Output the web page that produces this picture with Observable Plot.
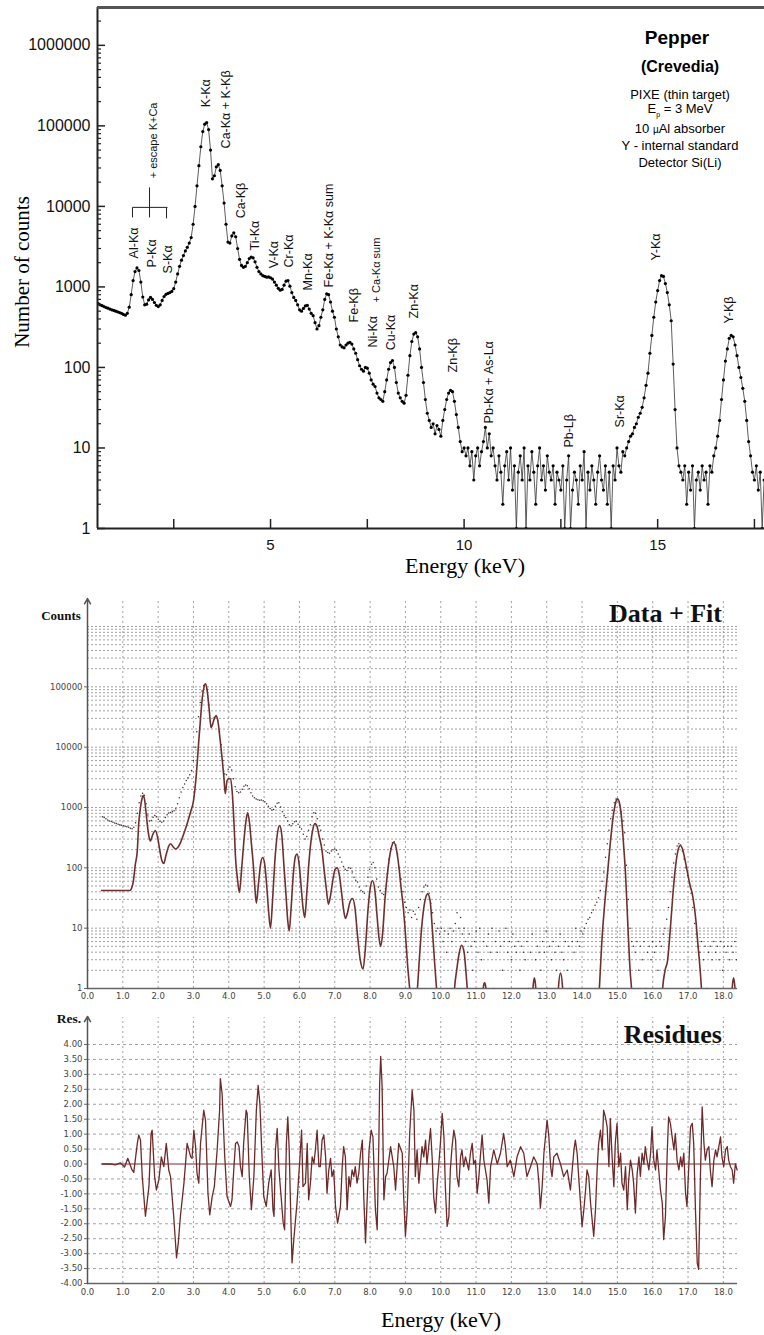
<!DOCTYPE html>
<html><head><meta charset="utf-8">
<script src="https://cdn.jsdelivr.net/npm/d3@7"></script>
<script src="https://cdn.jsdelivr.net/npm/@observablehq/plot@0.6"></script>
<style>
body{margin:0;background:#fff;}
#wrap{position:relative;width:764px;height:1335px;overflow:hidden;background:#fff;}
.abs{position:absolute;white-space:nowrap;line-height:1;}
.c{transform:translate(-50%,-50%);}
.serif{font-family:"Liberation Serif","Times New Roman",serif;}
.sans{font-family:"Liberation Sans",Arial,sans-serif;}
.r{transform:translate(-100%,-50%);}
</style></head><body>
<div id="wrap">
 <div id="topChart" class="abs" style="left:0;top:0"></div>
 <div id="midChart" class="abs" style="left:0;top:590px"></div>
 <div id="botChart" class="abs" style="left:0;top:1010px"></div>

 <div class="abs serif c" style="left:22px;top:272px;font-size:21px;transform:translate(-50%,-50%) rotate(-90deg)">Number of counts</div>
 <div class="abs serif c" style="left:465px;top:566px;font-size:22px">Energy (keV)</div>

 <div class="abs sans c" style="left:677px;top:37px;font-size:19px;font-weight:bold">Pepper</div>
 <div class="abs sans c" style="left:680px;top:67px;font-size:16px;font-weight:bold">(Crevedia)</div>
 <div class="abs sans c" style="left:680px;top:94px;font-size:13px">PIXE (thin target)</div>
 <div class="abs sans c" style="left:680px;top:110px;font-size:13px">E<sub style="font-size:7px">p</sub> = 3 MeV</div>
 <div class="abs sans c" style="left:680px;top:128px;font-size:13px">10 <span style="font-size:10px">µ</span>Al absorber</div>
 <div class="abs sans c" style="left:680px;top:145px;font-size:13px">Y - internal standard</div>
 <div class="abs sans c" style="left:680px;top:162px;font-size:13px">Detector Si(Li)</div>

 <div class="abs serif c" style="left:61px;top:615px;font-size:13px;font-weight:bold;color:#111">Counts</div>
 <div class="abs serif r" style="left:722px;top:614px;font-size:26px;font-weight:bold;color:#111">Data + Fit</div>
 <div class="abs serif c" style="left:69px;top:1019px;font-size:13.5px;font-weight:bold;color:#111">Res.</div>
 <div class="abs serif r" style="left:722px;top:1035px;font-size:26px;font-weight:bold;color:#111">Residues</div>
 <div class="abs serif c" style="left:441px;top:1320px;font-size:22px">Energy (keV)</div>
</div>
<script>
// ---------------- DATA ----------------
// Measured spectrum (counts per 0.05 keV bin, top-panel calibration)
const topStart = 0.40, topStep = 0.05;
const topCounts = [
700,680,650,620,600,585,570,555,545,530,520,510,500,490,480,470,455,445,
470,560,800,1200,1550,1720,1600,1150,750,600,
610,690,740,700,640,590,570,600,680,760,810,830,850,880,950,
1150,1450,1800,2150,2450,2800,3100,3500,4100,6000,10000,18000,32000,55000,85000,105000,110000,90000,50000,22000,
24000,31000,33000,28000,18000,11000,6000,3600,3500,4300,4700,4200,3000,2200,1850,1750,1800,2000,2250,2350,2300,2050,
1750,1550,1450,1380,1350,1320,1330,1300,1250,1150,1050,960,910,930,1050,1180,1200,1020,850,740,680,600,520,500,540,
580,590,530,470,440,360,300,330,420,520,700,820,800,650,500,420,300,240,190,180,175,190,200,205,195,170,150,125,105,
95,90,100,98,85,70,62,58,48,42,40,38,50,70,95,115,122,100,65,48,42,38,36,45,80,140,210,260,270,240,170,100,65,40,27,
22,18,20,15,19,17,14,22,30,40,48,52,50,38,26,18,12,9,10,
8,10,6,9,4,8,10,6,9,12,18,10,15,8,10,6,4,8,5,2,6,9,4,10,3,6,1,5,8,4,10,1,6,4,9,5,2,6,10,4,
6,3,8,5,4,6,2,5,4,3,6,1,4,8,1,3,5,4,2,6,4,9,1,5,3,6,4,2,5,8,4,3,6,2,5,1,6,4,10,
6,5,9,8,10,12,14,15,18,20,24,27,32,42,60,85,150,250,420,650,900,1200,1380,1350,1100,850,600,380,110,30,10,6,
5,4,6,2,5,3,6,1,4,5,3,6,4,5,2,6,5,8,10,14,22,40,70,120,170,230,250,240,190,140,100,75,55,38,22,12,8,5,4,6,3,5,1,4,
5,3,6,4,5,3,6,2,5,4,5,3,5,4,6,3,5
];
// Recalibration of the same channels for the fit program (middle panel)
const midOffset = 0.027, midGain = 0.989;

// Fit curve (middle panel), energy keV / counts
const fitE = [0.40,0.80,1.20,1.26,1.30,1.35,1.41,1.45,1.50,1.55,1.58,1.62,1.66,1.69,1.74,1.78,1.85,1.92,1.98,2.05,2.10,2.16,2.22,2.30,2.35,2.42,2.49,2.56,2.63,2.72,2.82,2.92,3.00,3.08,3.15,3.20,3.25,3.30,3.34,3.39,3.44,3.50,3.55,3.60,3.65,3.70,3.75,3.81,3.86,3.90,3.95,4.00,4.05,4.10,4.15,4.19,4.24,4.30,4.36,4.42,4.48,4.53,4.58,4.64,4.70,4.74,4.78,4.84,4.90,4.96,5.02,5.08,5.13,5.18,5.24,5.30,5.37,5.44,5.50,5.56,5.62,5.67,5.71,5.76,5.82,5.88,5.93,5.98,6.04,6.10,6.15,6.21,6.28,6.36,6.44,6.50,6.56,6.64,6.70,6.76,6.82,6.88,6.95,7.01,7.07,7.13,7.19,7.25,7.30,7.36,7.42,7.50,7.57,7.64,7.72,7.80,7.87,7.94,8.00,8.07,8.14,8.20,8.25,8.30,8.36,8.42,8.50,8.58,8.67,8.74,8.81,8.88,8.94,9.00,9.06,9.12,9.18,9.28,9.34,9.40,9.47,9.55,9.63,9.70,9.76,9.82,9.88,9.94,10.35,10.39,10.45,10.52,10.59,10.66,10.71,10.75,10.80,11.16,11.20,11.24,11.28,11.32,12.58,12.61,12.65,12.69,12.72,13.30,13.33,13.39,13.45,13.48,14.45,14.49,14.56,14.64,14.72,14.80,14.88,14.95,15.00,15.05,15.12,15.18,15.23,15.30,15.36,15.40,15.44,16.24,16.28,16.35,16.42,16.50,16.58,16.65,16.72,16.78,16.85,16.92,17.00,17.06,17.12,17.18,17.23,17.27,17.33,17.38,17.42,18.22,18.25,18.29,18.33,18.37,18.45];
const fitV = [42,42,42,48,61,110,193,540,1000,1450,1600,1300,800,540,330,280,360,415,330,190,135,118,160,230,250,225,205,220,260,360,540,850,1290,3500,12700,30000,66000,100000,112000,85000,45000,21000,25000,31000,33000,25000,14000,6600,3200,1700,2770,3000,3000,1700,500,148,70,39,90,250,560,820,600,250,100,45,26,55,115,148,110,45,18,10,30,120,350,500,350,110,35,13,9,20,70,150,170,130,55,22,15,40,150,380,540,480,330,193,90,45,25,35,65,95,100,75,40,20,14.5,18,26,31,22,8,3,2.1,5,20,45,61,40,15,7,5,9,30,90,190,263,210,110,45,22,8,2.5,1,0.4,0.4,1,3.5,12,28,37,28,10,3,1,0.4,0.4,1,2,3.8,5.2,4,2,1,0.4,0.4,1,1.26,1,0.4,0.4,1,1.5,1,0.4,0.4,1,1.8,1,0.4,0.4,1,6,25,80,260,700,1200,1400,1250,650,220,80,10,2,1,0.4,0.4,1,2,2.9,10,42,110,200,235,200,130,75,50,37,22,12,6.2,2.5,1,0.4,0.4,1,1.5,1,0.4,0.4];

// Residues (bottom panel)
const resE = [0.42,0.65,0.79,0.93,1.05,1.14,1.26,1.31,1.41,1.45,1.50,1.55,1.64,1.74,1.80,1.83,1.90,1.95,2.02,2.09,2.16,2.23,2.30,2.35,2.44,2.52,2.57,2.63,2.73,2.82,2.92,2.96,3.01,3.06,3.10,3.15,3.20,3.29,3.34,3.41,3.46,3.53,3.59,3.67,3.74,3.76,3.81,3.88,3.95,4.05,4.09,4.14,4.19,4.24,4.29,4.33,4.38,4.42,4.49,4.52,4.58,4.64,4.71,4.78,4.83,4.88,4.94,4.99,5.06,5.13,5.20,5.25,5.28,5.32,5.37,5.42,5.48,5.54,5.58,5.63,5.67,5.71,5.75,5.79,5.84,5.93,6.01,6.06,6.10,6.17,6.22,6.26,6.31,6.36,6.41,6.45,6.50,6.55,6.59,6.64,6.69,6.74,6.78,6.83,6.88,6.92,6.97,7.02,7.08,7.16,7.21,7.25,7.30,7.35,7.40,7.44,7.49,7.54,7.58,7.63,7.68,7.73,7.78,7.82,7.87,7.92,7.97,8.03,8.08,8.15,8.20,8.25,8.27,8.30,8.34,8.39,8.44,8.48,8.58,8.67,8.72,8.81,8.91,8.95,9.00,9.05,9.12,9.19,9.24,9.28,9.33,9.38,9.47,9.52,9.57,9.61,9.71,9.76,9.80,9.85,9.90,9.94,9.99,10.04,10.09,10.13,10.18,10.23,10.27,10.32,10.37,10.42,10.46,10.51,10.56,10.60,10.65,10.70,10.75,10.79,10.84,10.89,10.93,10.98,11.03,11.08,11.12,11.17,11.22,11.31,11.36,11.41,11.50,11.60,11.69,11.78,11.83,11.88,11.97,12.07,12.16,12.26,12.35,12.44,12.54,12.63,12.73,12.78,12.82,12.87,12.92,13.01,13.06,13.11,13.15,13.20,13.29,13.39,13.48,13.58,13.67,13.77,13.81,13.86,13.91,13.95,14.00,14.05,14.10,14.14,14.19,14.24,14.33,14.38,14.43,14.47,14.52,14.57,14.61,14.66,14.71,14.76,14.80,14.85,14.90,14.94,14.99,15.04,15.09,15.13,15.18,15.23,15.28,15.32,15.37,15.42,15.46,15.51,15.56,15.61,15.65,15.70,15.75,15.79,15.84,15.89,15.94,15.98,16.03,16.08,16.12,16.22,16.27,16.31,16.36,16.41,16.45,16.50,16.55,16.60,16.64,16.69,16.74,16.79,16.83,16.88,16.93,16.97,17.02,17.07,17.12,17.16,17.21,17.26,17.30,17.35,17.40,17.45,17.49,17.54,17.59,17.63,17.68,17.73,17.78,17.82,17.92,17.96,18.01,18.06,18.11,18.15,18.20,18.25,18.29,18.34,18.39];
const resV = [0,0,-0.03,0.04,-0.10,0.19,-0.20,-0.28,0.69,0.97,0.80,-0.42,-1.75,-0.75,1.02,1.13,-0.42,-0.87,-0.53,0.24,-0.09,0.69,-0.20,-0.42,-1.75,-3.14,-2.64,-1.75,-0.64,0.69,0.24,0.19,1.13,0.58,-0.31,-0.64,0.69,1.80,1.47,-0.98,-1.70,-1.09,-0.76,0.47,1.80,2.86,2.36,0.36,-1.09,-1.42,-1.20,-0.20,0.69,0.74,0.58,-0.09,-0.42,0.69,1.80,1.69,-0.42,-1.53,-0.42,1.80,2.63,2.02,0.24,-1.09,-1.42,-0.64,-0.20,-1.53,-1.75,0.47,1.19,-0.20,-1.09,-1.98,-2.20,0.69,1.58,0.47,-1.53,-3.31,-2.53,-1.31,0.13,1.13,-0.76,-0.64,0.69,-1.20,-0.64,0.24,0.02,0.47,1.13,-0.09,-0.09,0.80,0.97,0.24,-0.98,-0.20,0.19,-0.42,-0.20,-1.42,-1.98,-1.42,-0.09,0.58,0.24,-1.53,-0.42,-0.76,-0.20,-0.42,-0.09,-0.64,-0.31,0.36,0.80,-1.09,-2.64,-1.09,0.47,1.13,0.91,-1.53,-2.20,0.91,2.69,3.60,2.58,-1.20,-0.42,-0.31,0.58,-0.09,-0.87,0.69,0.36,-1.09,-2.42,-1.53,1.02,2.47,1.80,-0.42,0.47,-0.64,0.58,0.24,0.80,0.00,1.19,0.13,-1.09,-1.64,-0.64,-0.09,0.69,1.69,0.91,-0.76,-2.09,-1.75,-0.20,0.58,1.13,0.80,-0.42,-0.76,0.24,0.47,-0.09,0.24,0.00,-0.20,0.36,0.69,0.00,0.13,-0.98,-0.42,0.24,0.97,0.13,-0.53,-1.31,-0.09,0.47,0.00,0.36,1.02,0.58,-0.09,0.13,-0.42,0.24,0.58,0.36,-0.42,-0.09,0.24,0.00,-0.64,-1.48,-0.76,0.36,1.47,0.91,-0.09,-0.42,0.24,0.36,0.00,-0.42,-0.20,-0.87,0.47,0.80,0.36,-0.53,-1.20,-2.09,-1.53,-0.87,-0.20,-0.42,-1.31,-2.42,-1.53,-0.09,0.69,1.13,0.47,1.80,1.58,1.24,-0.09,1.52,0.24,-0.76,0.69,1.36,-0.09,0.36,-0.64,-0.87,-0.09,-1.53,-0.53,0.13,-0.20,-0.64,-1.64,-0.31,0.24,-0.42,0.36,0.00,0.58,0.13,-0.20,0.36,1.24,0.13,-0.20,0.47,-0.87,-1.31,-2.53,-1.75,0.36,1.58,1.36,0.91,0.47,1.02,0.13,-0.20,0.24,-0.09,0.36,-0.98,-1.42,-0.09,1.24,1.36,0.69,-1.53,-3.31,-3.53,-0.42,1.91,0.69,0.13,0.47,0.58,-0.20,-0.76,0.13,0.47,0.24,0.91,0.24,-0.09,0.47,0.58,0.13,-0.09,-0.20,-0.64,0.00,-0.20];

// Peak labels (top panel): label, energy, count at label start, font size
const peakLabels = ["Al-Kα","P-Kα","S-Kα","K-Kα","Ca-Kα + K-Kβ","Ca-Kβ","Ti-Kα","V-Kα","Cr-Kα","Mn-Kα","Fe-Kα + K-Kα sum","Fe-Kβ","Ni-Kα","+ Ca-Kα sum","Cu-Kα","Zn-Kα","Zn-Kβ","Pb-Kα + As-Lα","Pb-Lβ","Sr-Kα","Y-Kα","Y-Kβ","+ escape K+Ca"];
const peakE = [1.46,1.93,2.36,3.32,3.86,4.225,4.587,5.078,5.465,5.97,6.50,7.145,7.636,7.74,8.10,8.695,9.703,10.633,12.70,14.04,14.97,16.85,1.98];
const peakC = [2260,1746,1472,170000,52500,7100,2840,1700,1746,905,986,362,177,642,163,406,86.7,20.2,10.1,18.0,2135,352,22300];
const peakSize = [12.5,12.5,12.5,12.5,12.5,12.5,12.5,12.5,12.5,12.5,12.5,12.5,12.5,11,12.5,12.5,12.5,12.5,12.5,12.5,12.5,12.5,11];
// bracket grouping Al/P/S lines
const bracketE1 = [1.434,1.434,1.874,2.313];
const bracketE2 = [2.339,1.434,1.874,2.313];
const bracketC1 = [9720,9720,17200,9720];
const bracketC2 = [9720,7300,7300,7100];

// Axis ticks
const topDecades = [1,10,100,1000,10000,100000,1000000];
const minorMult = [2,3,4,5,6,7,8,9];
const topXTicks = [2.5,5,7.5,10,12.5,15,17.5];
const topXLabels = [5,10,15];
const midXTicks = [0,1,2,3,4,5,6,7,8,9,10,11,12,13,14,15,16,17,18];
const midYLabels = [1,10,100,1000,10000,100000];
const midDecades = [1,10,100,1000,10000,100000,1000000];
const resTicks = [-4,-3.5,-3,-2.5,-2,-1.5,-1,-0.5,0,0.5,1,1.5,2,2.5,3,3.5,4];

// ---------------- BUILD ----------------
const topData = topCounts.map((c, i) => ({e: topStart + i * topStep, c}));
const midData = topData.map(d => ({e: midOffset + midGain * d.e, c: d.c}));
const fitData = fitE.map((e, i) => ({e, v: fitV[i]}));
const resData = resE.map((e, i) => ({e, v: resV[i]}));
const labels = peakLabels.map((t, i) => ({t, e: peakE[i], c: peakC[i], s: peakSize[i]}));
const bracket = bracketE1.map((e, i) => ({x1: e, x2: bracketE2[i], y1: bracketC1[i], y2: bracketC2[i]}));
const topMax = 2.95e6;
const topMinor = topDecades.flatMap(d => minorMult.map(m => m * d)).filter(v => v < topMax);
const midGrid = midDecades.flatMap(d => d === 1e6 ? [d] : [d, ...minorMult.map(m => m * d)]);
const sansF = "Liberation Sans, Arial, sans-serif";

const topPlot = Plot.plot({
  width: 764, height: 590,
  marginLeft: 97, marginRight: 0, marginTop: 7, marginBottom: 62,
  x: {domain: [0.53, 17.76]},
  y: {type: "log", domain: [1, topMax]},
  style: {fontFamily: sansF, background: "transparent", overflow: "visible"},
  marks: [
    Plot.line(topData, {x: "e", y: "c", stroke: "#333", strokeWidth: 0.8, clip: true}),
    Plot.dot(topData, {x: "e", y: "c", r: 1.6, fill: "#000", stroke: "none", clip: true}),
    Plot.axisY({ticks: topDecades, tickSize: -8, tickFormat: () => "", stroke: "#222", strokeWidth: 1.5, label: null}),
    Plot.axisY({ticks: topMinor, tickSize: -4, tickFormat: () => "", stroke: "#222", strokeWidth: 1.2, label: null}),
    Plot.axisY({ticks: topDecades, tickSize: 0, tickPadding: 7, fontSize: 16, fill: "#111", tickFormat: d => String(d), label: null}),
    Plot.axisX({ticks: topXTicks, tickSize: -9, tickFormat: () => "", stroke: "#222", strokeWidth: 1.5, label: null}),
    Plot.axisX({ticks: topXLabels, tickSize: 0, tickPadding: 11, fontSize: 15, fill: "#111", label: null}),
    Plot.ruleX([0.53], {stroke: "#222", strokeWidth: 2}),
    Plot.ruleY([1], {stroke: "#222", strokeWidth: 2}),
    Plot.ruleY([topMax], {stroke: "#555", strokeWidth: 3}),
    Plot.link(bracket, {x1: "x1", x2: "x2", y1: "y1", y2: "y2", stroke: "#222", strokeWidth: 1}),
    Plot.text(labels, {x: "e", y: "c", text: "t", rotate: -90, textAnchor: "start", lineAnchor: "middle", fontSize: "s", fill: "#111", fontFamily: sansF})
  ]
});
document.getElementById("topChart").appendChild(topPlot);

const gridStroke = "#8a8a8a";
const midPlot = Plot.plot({
  width: 764, height: 420,
  marginLeft: 87, marginRight: 27, marginTop: 36, marginBottom: 22,
  x: {domain: [0, 18.4]},
  y: {type: "log", domain: [1, 1e6]},
  style: {fontFamily: "DejaVu Sans, sans-serif", background: "transparent", overflow: "visible"},
  marks: [
    Plot.ruleY(midGrid, {stroke: gridStroke, strokeWidth: 0.8, strokeDasharray: "2,2"}),
    Plot.ruleX(midXTicks.filter(d => d > 0), {y1: 1, y2: 2.9e6, stroke: gridStroke, strokeWidth: 0.8, strokeDasharray: "2,3"}),
    Plot.dot(midData, {x: "e", y: "c", r: 0.75, fill: "#3a2a2a", stroke: "none", clip: true}),
    Plot.line(fitData, {x: "e", y: "v", stroke: "#6e2f2f", strokeWidth: 1.6, curve: "monotone-x", clip: true}),
    Plot.ruleY([1], {stroke: "#666", strokeWidth: 1.5}),
    Plot.arrow([0], {x1: 0, x2: 0, y1: 1, y2: 2.9e6, stroke: "#555", strokeWidth: 1.5, headLength: 6}),
    Plot.axisX({ticks: midXTicks, tickSize: 0, tickPadding: 4, fontSize: 8.5, fill: "#444", tickFormat: d => d.toFixed(1), label: null}),
    Plot.axisY({ticks: midYLabels, tickSize: 3, tickPadding: 2, fontSize: 8.5, fill: "#444", stroke: "#666", tickFormat: d => String(d), label: null})
  ]
});
document.getElementById("midChart").appendChild(midPlot);

const botPlot = Plot.plot({
  width: 764, height: 325,
  marginLeft: 87, marginRight: 27, marginTop: 34, marginBottom: 52,
  x: {domain: [0, 18.4]},
  y: {domain: [-4, 4]},
  style: {fontFamily: "DejaVu Sans, sans-serif", background: "transparent", overflow: "visible"},
  marks: [
    Plot.ruleY(resTicks.filter(d => d !== 0 && d !== -4), {stroke: gridStroke, strokeWidth: 0.8, strokeDasharray: "3,3"}),
    Plot.ruleX(midXTicks.filter(d => d > 0), {y1: -4, y2: 4.9, stroke: gridStroke, strokeWidth: 0.8, strokeDasharray: "2,3"}),
    Plot.ruleY([0], {x1: 0.4, x2: 18.4, stroke: "#7a2a2a", strokeWidth: 1.2}),
    Plot.line(resData, {x: "e", y: "v", stroke: "#6e2a2a", strokeWidth: 1.3}),
    Plot.ruleY([-4], {stroke: "#666", strokeWidth: 1.5}),
    Plot.arrow([0], {x1: 0, x2: 0, y1: -4, y2: 4.94, stroke: "#555", strokeWidth: 1.5, headLength: 6}),
    Plot.axisX({ticks: midXTicks, tickSize: 0, tickPadding: 5, fontSize: 8.5, fill: "#444", tickFormat: d => d.toFixed(1), label: null}),
    Plot.axisY({ticks: resTicks, tickSize: 3, tickPadding: 2, fontSize: 8.5, fill: "#444", stroke: "#666", tickFormat: d => d.toFixed(2), label: null})
  ]
});
document.getElementById("botChart").appendChild(botPlot);
</script>
</body></html>
